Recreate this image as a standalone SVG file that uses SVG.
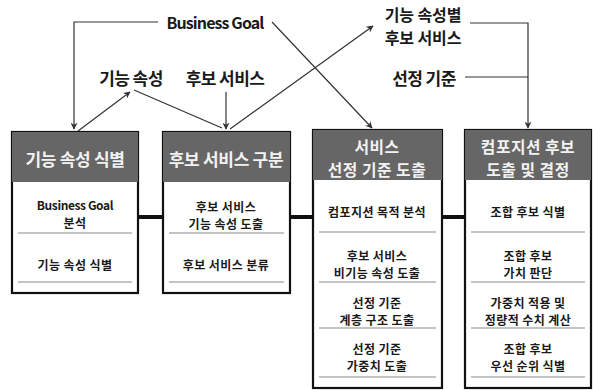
<svg xmlns="http://www.w3.org/2000/svg" width="593" height="390" viewBox="0 0 593 390">
<defs>
<marker id="ah" viewBox="0 0 10 10" refX="9" refY="5" markerWidth="7" markerHeight="7" orient="auto" markerUnits="userSpaceOnUse">
<path d="M0,0 L10,5 L0,10 L3,5 Z" fill="#333"/>
</marker>
</defs>
<style>
text{font-family:"Noto Sans CJK KR","Liberation Sans",sans-serif;font-weight:bold;text-anchor:middle;dominant-baseline:central}
.lbl{font-size:17px;fill:#1a1a1a;letter-spacing:-0.6px}
.lbl2{font-size:16px;fill:#1a1a1a;letter-spacing:-0.1px}
.bg{font-size:16px;letter-spacing:-0.9px}
.hd{fill:#666}
.hdt{font-size:17px;fill:#f2f2f2;letter-spacing:-0.3px}
.hdt2{font-size:15.8px;fill:#f2f2f2;letter-spacing:0.5px}
.body{fill:#fff;stroke:#111;stroke-width:2.2}
.sep{stroke:#8a8a8a;stroke-width:1.2}
.it{font-size:12px;fill:#1a1a1a;letter-spacing:0.4px}
.ln{fill:none;stroke:#333;stroke-width:1.2}
.thick{stroke:#111;stroke-width:4}
</style>
<rect width="593" height="390" fill="#fff"/>
<g id="labels">
<text class="lbl bg" x="215" y="22">Business Goal</text>
<text class="lbl" x="131" y="77">기능 속성</text>
<text class="lbl" x="225" y="77">후보 서비스</text>
<text class="lbl2" x="423" y="13.5">기능 속성별</text>
<text class="lbl2" x="423" y="36.8">후보 서비스</text>
<text class="lbl" x="424" y="77">선정 기준</text>
</g>
<g id="connectors">
<polyline class="ln" points="158,22 74,22 74,129" marker-end="url(#ah)"/>
<line class="ln" x1="272" y1="22" x2="372" y2="128" marker-end="url(#ah)"/>
<line class="ln" x1="78" y1="131" x2="130" y2="92" marker-end="url(#ah)"/>
<line class="ln" x1="134" y1="90" x2="222" y2="128"/>
<line class="ln" x1="226" y1="92" x2="226" y2="129" marker-end="url(#ah)"/>
<line class="ln" x1="230" y1="129" x2="373" y2="26" marker-end="url(#ah)"/>
<polyline class="ln" points="470,23 528,23 528,128" marker-end="url(#ah)"/>
<line class="ln" x1="465" y1="77" x2="528" y2="77"/>
<line class="thick" x1="138" y1="217" x2="163" y2="217"/>
<line class="thick" x1="290" y1="217" x2="313" y2="217"/>
<line class="thick" x1="442" y1="217" x2="465" y2="217"/>
</g>
<g id="node1">
<rect class="body" x="12" y="132" width="126" height="161"/>
<rect class="hd" x="12" y="132" width="126" height="50"/>
<text class="hdt" x="75" y="158">기능 속성 식별</text>
<text class="it" x="75" y="204.75" style="letter-spacing:-0.4px">Business Goal</text>
<text class="it" x="75" y="222.25">분석</text>
<line class="sep" x1="18" y1="233" x2="132" y2="233"/>
<text class="it" x="75" y="264">기능 속성 식별</text>
<line class="sep" x1="18" y1="282" x2="132" y2="282"/>
</g>
<g id="node2">
<rect class="body" x="163" y="132" width="127" height="161"/>
<rect class="hd" x="163" y="132" width="127" height="50"/>
<text class="hdt" x="226" y="158">후보 서비스 구분</text>
<text class="it" x="226" y="206.25">후보 서비스</text>
<text class="it" x="226" y="223.75">기능 속성 도출</text>
<line class="sep" x1="169" y1="233" x2="284" y2="233"/>
<text class="it" x="226" y="264">후보 서비스 분류</text>
<line class="sep" x1="169" y1="282" x2="284" y2="282"/>
</g>
<g id="node3">
<rect class="body" x="313" y="130" width="129" height="258"/>
<rect class="hd" x="313" y="130" width="129" height="50"/>
<text class="hdt2" x="377" y="146">서비스</text>
<text class="hdt2" x="377" y="169">선정 기준 도출</text>
<text class="it" x="377" y="211">컴포지션 목적 분석</text>
<line class="sep" x1="319" y1="232" x2="436" y2="232"/>
<text class="it" x="377" y="255.25">후보 서비스</text>
<text class="it" x="377" y="272.75">비기능 속성 도출</text>
<line class="sep" x1="319" y1="282" x2="436" y2="282"/>
<text class="it" x="377" y="302.25">선정 기준</text>
<text class="it" x="377" y="319.75">계층 구조 도출</text>
<line class="sep" x1="319" y1="328" x2="436" y2="328"/>
<text class="it" x="377" y="348.25">선정 기준</text>
<text class="it" x="377" y="365.75">가중치 도출</text>
<line class="sep" x1="319" y1="377" x2="436" y2="377"/>
</g>
<g id="node4">
<rect class="body" x="465" y="130" width="126" height="258"/>
<rect class="hd" x="465" y="130" width="126" height="50"/>
<text class="hdt2" x="528" y="146">컴포지션 후보</text>
<text class="hdt2" x="528" y="169">도출 및 결정</text>
<text class="it" x="528" y="211">조합 후보 식별</text>
<line class="sep" x1="471" y1="232" x2="585" y2="232"/>
<text class="it" x="528" y="255.25">조합 후보</text>
<text class="it" x="528" y="272.75">가치 판단</text>
<line class="sep" x1="471" y1="282" x2="585" y2="282"/>
<text class="it" x="528" y="302.25">가중치 적용 및</text>
<text class="it" x="528" y="319.75">정량적 수치 계산</text>
<line class="sep" x1="471" y1="328" x2="585" y2="328"/>
<text class="it" x="528" y="348.25">조합 후보</text>
<text class="it" x="528" y="365.75">우선 순위 식별</text>
<line class="sep" x1="471" y1="377" x2="585" y2="377"/>
</g>
</svg>
